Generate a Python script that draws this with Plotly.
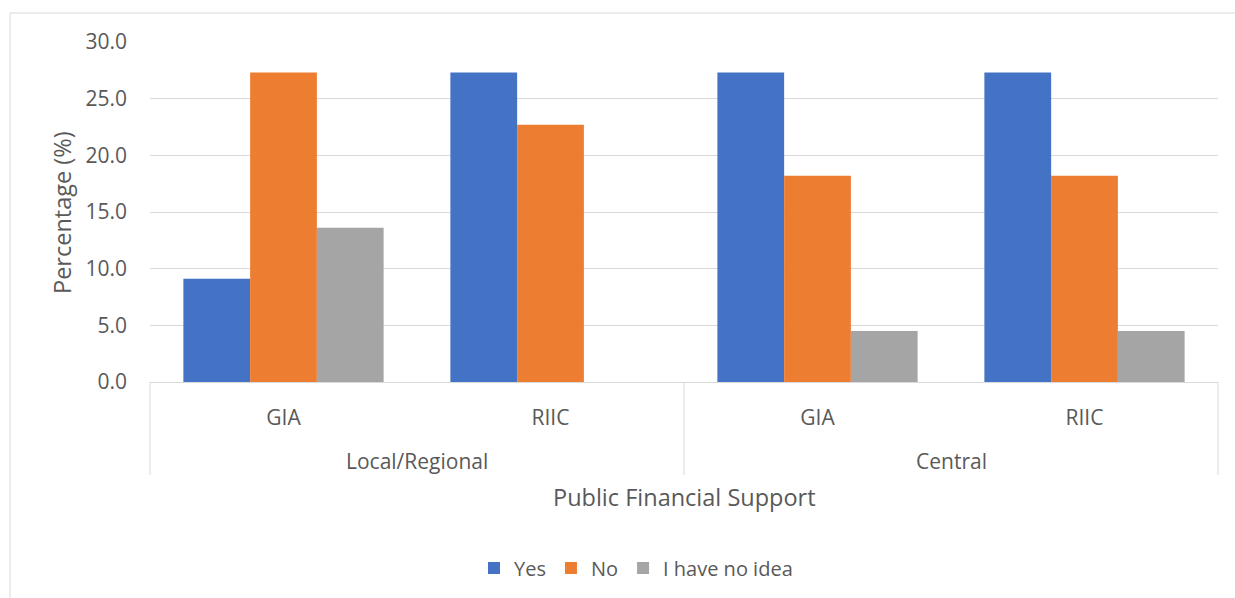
import plotly.graph_objects as go

groups = ["Local/Regional", "Local/Regional", "Central", "Central"]
subcats = ["GIA", "RIIC", "GIA", "RIIC"]
cat_ids = ["Local/Regional GIA", "Local/Regional RIIC", "Central GIA", "Central RIIC"]
yes_vals = [9.1, 27.3, 27.3, 27.3]
no_vals = [27.3, 22.7, 18.2, 18.2]
idk_vals = [13.6, 0.0, 4.5, 4.5]
series_names = ["Yes", "No", "I have no idea"]
series_colors = ["#4472C4", "#ED7D31", "#A5A5A5"]
y_ticks = [0, 5, 10, 15, 20, 25, 30]
y_ticktext = ["0.0", "5.0", "10.0", "15.0", "20.0", "25.0", "30.0"]

W, H = 1235, 598
L, R, T, B = 150, 1218, 42, 382
pw, ph = R - L, B - T

def px(x):
    return (x - L) / pw

def py(y):
    return (B - y) / ph

FONT = "Open Sans"
GREY = "#595959"
LINE = "#D9D9D9"
TICK_SIZE = 21
LEGEND_SIZE = 20
TITLE_SIZE = 23.5

fig = go.Figure()
for name, vals, col in zip(series_names, [yes_vals, no_vals, idk_vals], series_colors):
    fig.add_trace(go.Bar(x=cat_ids, y=vals, name=name, marker=dict(color=col, line=dict(width=0))))

shapes = []
# chart border (top & left visible)
shapes.append(dict(type="rect", xref="paper", yref="paper", x0=px(10), x1=px(1300), y0=py(13), y1=py(700),
                   line=dict(color=LINE, width=1), fillcolor="rgba(0,0,0,0)", layer="below"))
# category dividers
for xx in [L, (L + R) / 2, R]:
    shapes.append(dict(type="line", xref="paper", yref="paper", x0=px(xx), x1=px(xx), y0=0, y1=py(475),
                       line=dict(color=LINE, width=1)))

annotations = []
for i in range(0, len(groups), 2):
    annotations.append(dict(x=i + 0.5, xref="x", y=py(461), yref="paper", text=groups[i], showarrow=False,
                            font=dict(family=FONT, size=TICK_SIZE, color=GREY), xanchor="center", yanchor="middle"))
annotations.append(dict(x=px(684), xref="paper", y=py(497), yref="paper", text="Public Financial Support",
                        showarrow=False, font=dict(family=FONT, size=TITLE_SIZE, color=GREY),
                        xanchor="center", yanchor="middle"))
annotations.append(dict(x=px(62), xref="paper", y=py(213), yref="paper", text="Percentage (%)", textangle=-90,
                        showarrow=False, font=dict(family=FONT, size=TITLE_SIZE, color=GREY),
                        xanchor="center", yanchor="middle"))

fig.update_layout(
    width=W, height=H,
    margin=dict(l=L, r=W - R, t=T, b=H - B, autoexpand=False),
    paper_bgcolor="white", plot_bgcolor="white",
    barmode="group", bargap=0.25, bargroupgap=0,
    font=dict(family=FONT, color=GREY, size=TICK_SIZE),
    shapes=shapes, annotations=annotations,
    legend=dict(orientation="h", x=px(474), xanchor="left", y=py(568), yanchor="middle",
                font=dict(family=FONT, size=LEGEND_SIZE, color=GREY), itemwidth=30, bgcolor="rgba(0,0,0,0)"),
    xaxis=dict(type="category", tickmode="array", tickvals=cat_ids, ticktext=subcats,
               showgrid=False, showline=True, linecolor=LINE, linewidth=1, ticks="",
               ticklabelstandoff=17, tickfont=dict(family=FONT, size=TICK_SIZE, color=GREY), fixedrange=True),
    yaxis=dict(range=[0, 30], tickmode="array", tickvals=y_ticks, ticktext=y_ticktext,
               showgrid=True, gridcolor=LINE, gridwidth=1, zeroline=False, showline=False,
               ticks="", ticklabelstandoff=22, tickfont=dict(family=FONT, size=TICK_SIZE, color=GREY)),
)

fig.write_html("out.html")
